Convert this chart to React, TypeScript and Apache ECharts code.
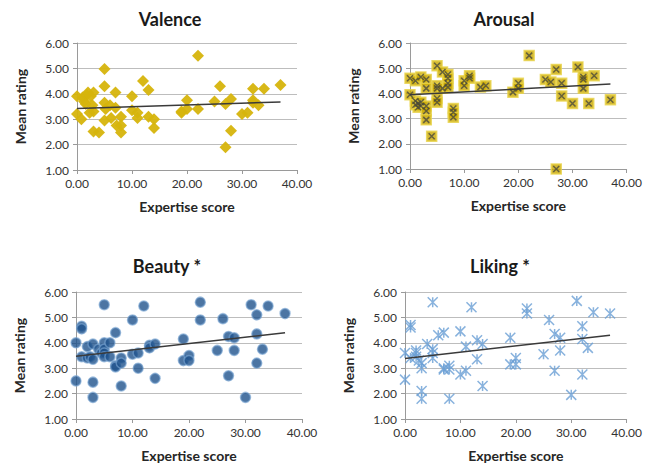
import React, { useEffect, useRef } from "react";
import * as echarts from "echarts";

const panelTitles = ["Valence", "Arousal", "Beauty *", "Liking *"];
const yTicks = [1, 2, 3, 4, 5, 6];
const xTicks = [0, 10, 20, 30, 40];

const valence: number[][] = [
  [0, 3.9], [0, 3.2], [0.8, 3.0], [1, 3.85], [1.3, 3.7], [1.8, 3.95], [2, 4.05], [1.6, 3.6], [2.3, 3.25],
  [2.5, 3.9], [2.8, 3.55], [3, 4.05], [3, 3.3], [3, 2.52], [4, 2.48], [5, 4.98], [5, 4.3], [5, 3.65],
  [5.2, 3.4], [5, 2.95], [6, 3.55], [6.2, 3.05], [7, 4.05], [7, 3.45], [7.2, 2.75], [8, 3.1], [8, 2.75],
  [8, 2.48], [10, 3.9], [10, 3.35], [11, 3.25], [11, 3.05], [12, 4.5], [13, 4.15], [13, 3.1], [14, 3.0],
  [14, 2.65], [19, 3.3], [19, 3.25], [20, 3.75], [20, 3.4], [22, 5.5], [22, 3.4], [25, 3.7], [26, 4.3],
  [27, 3.6], [27, 1.9], [28, 3.8], [28, 2.55], [30, 3.2], [31, 3.25], [32, 4.2], [32, 3.75], [32, 3.65],
  [33, 3.55], [34, 4.2], [37, 4.35],
];
const arousal: number[][] = [
  [0, 4.6], [0, 3.95], [1, 4.5], [1, 3.7], [1, 3.55], [1.5, 3.45], [1.5, 3.6], [2, 4.65], [2, 3.65],
  [2, 3.5], [3, 4.55], [3, 4.2], [3, 3.5], [3, 3.3], [3, 2.95], [4, 2.3], [5, 5.1], [5, 4.3], [5, 4.2],
  [5, 3.8], [5, 3.65], [6, 4.85], [6, 4.2], [7, 4.75], [7, 4.6], [7, 4.4], [7, 4.25], [8, 3.4], [8, 3.25],
  [8, 3.05], [10, 4.5], [10, 4.3], [11, 4.7], [11, 4.6], [13, 4.25], [14, 4.3], [19, 4.05], [20, 4.4],
  [20, 4.2], [22, 5.5], [25, 4.55], [26, 4.45], [27, 4.95], [27, 1.0], [28, 4.4], [28, 3.9], [30, 3.6],
  [31, 5.05], [32, 4.65], [32, 4.55], [32, 4.2], [33, 3.6], [34, 4.7], [37, 3.75],
];
const beauty: number[][] = [
  [0, 4.0], [0, 2.5], [1, 4.65], [1, 4.55], [1, 3.45], [2, 3.85], [2, 3.4], [2.5, 3.45], [3, 3.95],
  [3, 3.35], [3, 2.45], [3, 1.85], [4, 3.75], [4.5, 3.6], [5, 5.5], [5, 4.0], [5, 3.75], [5, 3.6],
  [5, 3.45], [6, 4.0], [6, 3.45], [7, 4.4], [7, 3.1], [7, 3.05], [8, 3.4], [8, 3.2], [8, 2.3], [10, 4.9],
  [10, 3.55], [11, 3.6], [11, 3.0], [12, 5.45], [13, 3.9], [13, 3.8], [14, 3.95], [14, 2.6], [19, 4.15],
  [19, 3.3], [20, 3.5], [20, 3.3], [22, 5.6], [22, 4.9], [25, 3.7], [26, 4.95], [27, 4.25], [27, 2.7],
  [28, 4.2], [28, 3.7], [30, 1.85], [31, 5.5], [32, 5.1], [32, 4.35], [32, 3.2], [33, 3.75], [34, 5.45],
  [37, 5.15],
];
const liking: number[][] = [
  [0, 3.6], [0, 2.55], [1, 4.7], [1, 4.6], [1, 3.4], [2, 3.7], [2, 3.6], [2, 3.45], [2.5, 3.3], [3, 3.2],
  [3, 3.0], [3, 2.1], [3, 1.8], [4, 3.95], [5, 5.6], [5, 3.75], [5, 3.6], [5, 3.4], [6, 4.3], [7, 4.4],
  [7, 3.0], [7, 2.95], [8, 3.1], [8, 2.95], [8, 1.8], [10, 4.45], [10, 2.75], [11, 3.85], [11, 2.9],
  [12, 5.4], [13, 4.1], [13, 3.35], [14, 3.95], [14, 2.3], [19, 4.2], [19, 3.15], [20, 3.4], [20, 3.15],
  [22, 5.35], [22, 5.15], [25, 3.55], [26, 4.9], [27, 4.35], [27, 2.9], [28, 4.2], [28, 3.7], [30, 1.95],
  [31, 5.65], [32, 4.65], [32, 4.15], [32, 2.75], [33, 3.8], [34, 5.2], [37, 5.15],
];

const valenceTrend = [[0, 3.42], [37, 3.68]];
const arousalTrend = [[0, 3.95], [37, 4.37]];
const beautyTrend = [[0, 3.47], [37, 4.4]];
const likingTrend = [[0, 3.38], [37, 4.3]];

const FONT = "Lato, 'Open Sans', sans-serif";

export default function App() {
  const ref = useRef<HTMLDivElement>(null);
  useEffect(() => {
    if (!ref.current) return;
    const chart = echarts.init(ref.current, undefined, { renderer: "svg" });

    const grids = [
      { left: 77, right: 348, top: 43, bottom: 293 },
      { left: 410, right: 14, top: 43, bottom: 294 },
      { left: 76, right: 343, top: 292, bottom: 44 },
      { left: 405, right: 15, top: 292, bottom: 44 },
    ];
    const titlePos = [
      { x: 165, y: 5 },
      { x: 499, y: 5 },
      { x: 162, y: 252 },
      { x: 495, y: 252 },
    ];

    const xAxes = grids.map((_, i) => ({
      type: "value",
      gridIndex: i,
      min: xTicks[0],
      max: xTicks[xTicks.length - 1],
      interval: 10,
      name: "Expertise score",
      nameLocation: "middle",
      nameGap: 29,
      nameTextStyle: { fontFamily: FONT, fontWeight: "bold", fontSize: 14, color: "#262626" },
      axisLine: { show: true, lineStyle: { color: "#9a9a9a" } },
      axisTick: { show: true, length: 4, lineStyle: { color: "#9a9a9a" } },
      axisLabel: {
        margin: 7,
        fontFamily: FONT,
        fontSize: 12,
        color: "#333",
        formatter: (v: number) => v.toFixed(2),
      },
      splitLine: { show: false },
    }));
    const yAxes = grids.map((_, i) => ({
      type: "value",
      gridIndex: i,
      min: yTicks[0],
      max: yTicks[yTicks.length - 1],
      interval: 1,
      name: "Mean rating",
      nameLocation: "middle",
      nameGap: 50,
      nameTextStyle: { fontFamily: FONT, fontWeight: "bold", fontSize: 14, color: "#262626" },
      axisLine: { show: true, lineStyle: { color: "#9a9a9a" } },
      axisTick: { show: true, length: 4, lineStyle: { color: "#9a9a9a" } },
      axisLabel: {
        margin: 8,
        fontFamily: FONT,
        fontSize: 12,
        color: "#333",
        formatter: (v: number) => v.toFixed(2),
      },
      splitLine: { show: true, lineStyle: { color: "#bdbdbd", width: 1 } },
    }));

    const trendSeries = (data: number[][], i: number) => ({
      type: "line",
      xAxisIndex: i,
      yAxisIndex: i,
      data,
      showSymbol: false,
      symbol: "none",
      lineStyle: { color: "#3a3a3a", width: 1.5 },
      z: 5,
      silent: true,
    });

    const xPath = "path://M0 0 L10 10 M10 0 L0 10";
    const starPath = "path://M0 0 L10 10 M10 0 L0 10 M5 0 L5 10";

    const option: any = {
      animation: false,
      title: panelTitles.map((t, i) => ({
        text: t,
        left: titlePos[i].x,
        top: titlePos[i].y,
        textAlign: "center",
        textStyle: { fontFamily: FONT, fontWeight: "bold", fontSize: 18, color: "#1a1a1a" },
      })),
      grid: grids,
      xAxis: xAxes,
      yAxis: yAxes,
      series: [
        {
          type: "scatter",
          xAxisIndex: 0,
          yAxisIndex: 0,
          data: valence,
          symbol: "diamond",
          symbolSize: 12,
          itemStyle: { color: "#d6b40c", opacity: 0.95 },
        },
        trendSeries(valenceTrend, 0),
        {
          type: "scatter",
          xAxisIndex: 1,
          yAxisIndex: 1,
          data: arousal,
          symbol: "rect",
          symbolSize: 10,
          itemStyle: { color: "#c9a800", borderColor: "#e8d34a", borderWidth: 1.5 },
        },
        {
          type: "scatter",
          xAxisIndex: 1,
          yAxisIndex: 1,
          data: arousal,
          symbol: xPath,
          symbolSize: 6,
          itemStyle: { color: "transparent", borderColor: "#4a4a3a", borderWidth: 1.5 },
        },
        trendSeries(arousalTrend, 1),
        {
          type: "scatter",
          xAxisIndex: 2,
          yAxisIndex: 2,
          data: beauty,
          symbol: "circle",
          symbolSize: 10,
          itemStyle: { color: "#1f528c", borderColor: "rgba(120,165,210,0.8)", borderWidth: 1.5 },
        },
        trendSeries(beautyTrend, 2),
        {
          type: "scatter",
          xAxisIndex: 3,
          yAxisIndex: 3,
          data: liking,
          symbol: starPath,
          symbolSize: 10,
          itemStyle: { color: "transparent", borderColor: "#6a9fd4", borderWidth: 1.5 },
        },
        trendSeries(likingTrend, 3),
      ],
    };
    chart.setOption(option);
    return () => chart.dispose();
  }, []);

  return (
    <div
      ref={ref}
      style={{ position: "fixed", left: 0, top: 0, width: 645, height: 463, background: "#fff" }}
    />
  );
}
